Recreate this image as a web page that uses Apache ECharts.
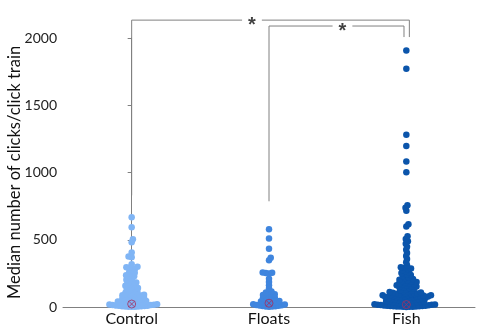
<!DOCTYPE html>
<html>
<head>
<meta charset="utf-8">
<script src="https://cdn.jsdelivr.net/npm/echarts@6/dist/echarts.min.js"></script>
<style>
  html, body { margin: 0; padding: 0; background: #ffffff; }
  #chart { width: 483px; height: 335px; }
</style>
</head>
<body>
<div id="chart"></div>
<script>
// Groups on the x axis
const categories = ['Control', 'Floats', 'Fish'];

// Median number of clicks per click train, one value per recording
const controlValues = [
  668, 593, 503, 481, 406, 376, 370,
  318, 299, 296, 291, 284, 276, 263, 254,
  247, 236, 229, 221, 214, 203, 196, 189, 182,
  177, 171, 166, 158, 152, 149, 141, 136, 130, 124, 117, 112, 106, 101,
  98, 95, 91, 88, 86, 83, 79, 76, 73, 70, 67, 63, 60, 57, 55, 52,
  49, 46, 44, 41, 39, 36, 34, 32, 29, 27, 25, 23, 21, 19, 17,
  15, 14, 12, 10, 9, 7, 6, 5, 4, 3, 2, 1, 1
];
const floatsValues = [
  578, 509, 434, 367, 347,
  257, 255, 252, 250,
  210, 186, 162, 138, 116,
  108, 101, 95, 89, 84, 78, 74, 69, 63, 58, 54, 49, 45, 41, 37,
  33, 30, 27, 24, 21, 18, 15, 13, 11, 9, 7, 5, 4, 3, 2
];
const fishValues = [
  1907, 1772, 1280, 1197, 1081, 1001, 757, 738, 715, 616, 598, 526, 506, 488,
  470, 448, 425, 402, 379, 356, 333, 310,
  296, 292, 287, 283,
  276, 267, 259, 252, 244, 237, 230, 222, 216, 209, 203,
  198, 193, 189, 185, 181, 177, 173, 170, 166, 162, 159, 155, 152, 148, 145, 141,
  136, 130, 125, 121, 117, 114, 111, 108, 106, 103, 101, 99, 97, 95, 94, 92, 90,
  88, 88, 86, 85, 83, 82, 80, 78, 77, 75, 74, 72, 71,
  69, 67, 66, 63, 62, 60, 58, 57, 55, 53, 52, 50, 48, 47, 45, 43, 41, 40, 38,
  36, 34, 33, 31, 29, 27, 26, 24, 22, 21, 19, 17, 16, 14, 13, 11, 10, 9, 8,
  7, 6, 5, 4, 3, 3, 2, 1, 1, 0
];
const groupValues = [controlValues, floatsValues, fishValues];
const groupColors = ['#80b5f5', '#3f85de', '#0b55ab'];

// Group centre markers (circle with cross)
const centerValues = [22, 28, 18];

// Significance brackets: [category position, value] corners; stars sit in a gap of the top bar
const bracketOuter = [[0, 830], [0, 2133], [2.022, 2133], [2.022, 2007]];
const bracketInner = [[1, 786], [1, 2089], [1.983, 2089], [1.983, 2007]];
const starMarks = [[0.876, 2133], [1.535, 2089]];
const starGap = 0.072;

// Y axis range
const yMin = 0, yMax = 2000, yStep = 500;

const fontFamily = 'Lato, "Liberation Sans", sans-serif';
const lineGray = '#808080';

const chart = echarts.init(document.getElementById('chart'), null, { renderer: 'canvas' });

const baseOption = {
  animation: false,
  backgroundColor: '#ffffff',
  grid: { left: 63, right: 8, top: 38, bottom: 28, containLabel: false, outerBoundsMode: 'none' },
  xAxis: [
    {
      type: 'category',
      data: categories,
      boundaryGap: true,
      axisLine: { show: true, lineStyle: { color: lineGray, width: 1 } },
      axisTick: { show: false },
      axisLabel: { fontSize: 16, color: '#111111', margin: 4, fontFamily: fontFamily }
    },
    {
      type: 'value',
      min: -0.5,
      max: 2.5,
      show: false
    }
  ],
  yAxis: {
    type: 'value',
    min: yMin,
    max: yMax,
    interval: yStep,
    name: 'Median number of clicks/click train',
    nameLocation: 'middle',
    nameGap: 40,
    nameMoveOverlap: false,
    nameTextStyle: { fontSize: 16.5, color: '#111111', fontFamily: fontFamily },
    axisLine: { show: true, lineStyle: { color: lineGray, width: 1 } },
    axisTick: { show: true, length: 4, lineStyle: { color: lineGray } },
    axisLabel: { fontSize: 14, color: '#222222', margin: 6, fontFamily: fontFamily, formatter: v => String(v) },
    splitLine: { show: false }
  },
  series: []
};
chart.setOption(baseOption);

// Pixel helpers from the chart's own axes
const yPix = v => chart.convertToPixel({ yAxisIndex: 0 }, v);
const xPerUnit = chart.convertToPixel({ xAxisIndex: 1 }, 1) - chart.convertToPixel({ xAxisIndex: 1 }, 0);

// Beeswarm layout: each dot goes as close to the group centre as possible without
// coming nearer than `d` pixels to a dot already placed.
function swarm(values, d) {
  const pts = values.map(v => ({ v: v, y: yPix(v), x: 0 })).sort((a, b) => a.v - b.v);
  const placed = [];
  let side = -1;
  pts.forEach(p => {
    const ivs = [];
    placed.forEach(q => {
      const dy = p.y - q.y;
      if (Math.abs(dy) < d) {
        const w = Math.sqrt(d * d - dy * dy);
        ivs.push([q.x - w, q.x + w]);
      }
    });
    const cands = [0];
    ivs.forEach(iv => { cands.push(iv[0], iv[1]); });
    const ok = cands.filter(c => ivs.every(iv => c <= iv[0] + 1e-6 || c >= iv[1] - 1e-6));
    ok.sort((a, b) => {
      const da = Math.abs(a), db = Math.abs(b);
      if (Math.abs(da - db) > 1e-6) return da - db;
      return (a - b) * side;
    });
    p.x = ok[0];
    if (Math.abs(p.x) > 1e-6) side = -side;
    placed.push(p);
  });
  return placed;
}

const swarmSeries = groupValues.map((vals, gi) => {
  const pts = swarm(vals, 3.2);
  return {
    type: 'scatter',
    name: categories[gi],
    xAxisIndex: 1,
    yAxisIndex: 0,
    symbol: 'circle',
    symbolSize: 6.5,
    clip: false,
    itemStyle: { color: groupColors[gi], opacity: 1 },
    data: pts.map(p => [gi + p.x / xPerUnit, p.v]),
    z: 2
  };
});

const centerSeries = {
  type: 'scatter',
  xAxisIndex: 1,
  yAxisIndex: 0,
  symbol: 'path://M0,5A5,5 0 1,1 10,5A5,5 0 1,1 0,5ZM1.6,1.6L8.4,8.4M8.4,1.6L1.6,8.4',
  symbolSize: 8,
  clip: false,
  itemStyle: { color: 'rgba(0,0,0,0)', borderColor: '#a33060', borderWidth: 1 },
  data: centerValues.map((v, i) => [i, v]),
  z: 5
};

// Split a bracket's top bar around its star
function bracketPaths(corners, starX) {
  const left = corners.slice(0, 2).concat([[starX - starGap, corners[1][1]]]);
  const right = [[starX + starGap, corners[2][1]]].concat(corners.slice(2));
  return [{ coords: left }, { coords: right }];
}

const bracketSeries = {
  type: 'lines',
  coordinateSystem: 'cartesian2d',
  xAxisIndex: 1,
  yAxisIndex: 0,
  polyline: true,
  clip: false,
  silent: true,
  lineStyle: { color: lineGray, width: 1, opacity: 1 },
  data: bracketPaths(bracketOuter, starMarks[0][0]).concat(bracketPaths(bracketInner, starMarks[1][0])),
  z: 1
};

const starSeries = {
  type: 'scatter',
  xAxisIndex: 1,
  yAxisIndex: 0,
  symbolSize: 0,
  clip: false,
  silent: true,
  data: starMarks,
  label: {
    show: true,
    position: 'inside',
    formatter: '*',
    fontSize: 20,
    fontWeight: 'bold',
    color: '#111111',
    fontFamily: '"Liberation Sans", sans-serif',
    offset: [0, 5]
  },
  z: 3
};

chart.setOption({ series: swarmSeries.concat([centerSeries, bracketSeries, starSeries]) });
</script>
</body>
</html>
